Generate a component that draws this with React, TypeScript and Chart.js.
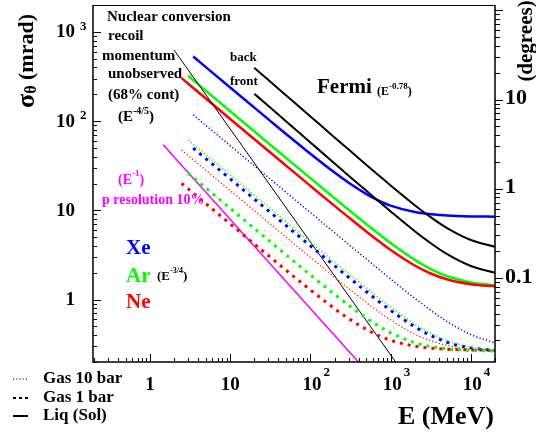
import React, { useEffect, useRef } from "react";
import { Chart, registerables } from "chart.js";

Chart.register(...registerables);

// Energy grids (MeV)
const E_GRID = [10, 30, 100, 200, 300, 500, 700, 1000, 2000, 3000, 5000, 10000, 20000];
const E_FERMI = [20, 30, 50, 100, 200, 300, 500, 700, 1000, 2000, 3000, 5000, 10000, 20000];
const E_XE = [3.46, ...E_GRID];
const E_AR = [3.0, ...E_GRID];
const E_NE = [2.48, ...E_GRID];

// sigma_theta (mrad)
const xeLiq = [529, 237.8, 104.5, 43.1, 26.5, 20.37, 15.21, 12.96, 11.3, 9.57, 9.08, 8.75, 8.56, 8.5];
const arLiq = [322, 128.9, 56.55, 22.97, 13.7, 10.15, 7.0, 5.5, 4.3, 2.79, 2.26, 1.84, 1.558, 1.444];
const neLiq = [303, 105.5, 46.26, 18.8, 11.23, 8.34, 5.77, 4.57, 3.6, 2.41, 2.0, 1.69, 1.487, 1.409];

const xeGas10 = [117.7, 53.1, 23.29, 9.44, 5.62, 4.15, 2.84, 2.21, 1.7, 1.035, 0.786, 0.572, 0.406, 0.327];
const arGas10 = [61.3, 24.86, 10.9, 4.42, 2.64, 1.956, 1.348, 1.059, 0.828, 0.534, 0.431, 0.35, 0.294, 0.272];
const neGas10 = [47.4, 16.66, 7.31, 2.975, 1.782, 1.327, 0.925, 0.738, 0.59, 0.41, 0.352, 0.308, 0.281, 0.271];

const xeGas1 = [49.9, 22.53, 9.88, 4.007, 2.396, 1.776, 1.226, 0.966, 0.758, 0.496, 0.406, 0.335, 0.288, 0.27];
const arGas1 = [26.0, 10.55, 4.626, 1.893, 1.146, 0.864, 0.62, 0.509, 0.425, 0.329, 0.301, 0.281, 0.27, 0.265];
const neGas1 = [20.1, 7.06, 3.108, 1.284, 0.794, 0.613, 0.463, 0.397, 0.35, 0.301, 0.287, 0.278, 0.273, 0.271];

const fermiBack = [395.6, 288.5, 193.7, 112.8, 65.7, 48.0, 32.3, 24.94, 19.0, 11.43, 8.67, 6.36, 4.65, 3.91];
const fermiFront = [202.3, 147.6, 99.1, 57.7, 33.6, 24.5, 16.54, 12.76, 9.73, 5.84, 4.43, 3.25, 2.38, 2.0];

const E_NUCLEAR = [1.99, 2000];
const nuclear = [629, 0.1];
const E_PRES = [1.46, 1000];
const pRes = [54.4, 0.0794];

const X_MIN = 0.195;
const X_MAX = 20000;
const Y_MIN = 0.2;
const Y_MAX = 2000;
const MRAD_PER_DEG = 17.4533;

const BOTTOM_TICKS = [1, 10, 100, 1000, 10000];
const LEFT_TICKS = [1, 10, 100, 1000];
const RIGHT_TICKS = [0.1, 1, 10];

const SERIF = '"Liberation Serif", "Times New Roman", serif';
const F = (px: number) => `bold ${px}px ${SERIF}`;

type Part = { t: string; px: number; dy?: number; w?: number };

function rich(ctx: CanvasRenderingContext2D, parts: Part[], x: number, y: number, align: string, color: string) {
  let total = 0;
  parts.forEach((p) => {
    ctx.font = F(p.px);
    p.w = ctx.measureText(p.t).width;
    total += p.w;
  });
  let cx = align === "center" ? x - total / 2 : align === "right" ? x - total : x;
  ctx.fillStyle = color;
  ctx.textAlign = "left";
  ctx.textBaseline = "middle";
  parts.forEach((p) => {
    ctx.font = F(p.px);
    ctx.fillText(p.t, cx, y + (p.dy || 0));
    cx += p.w || 0;
  });
}

function txt(ctx: CanvasRenderingContext2D, s: string, x: number, y: number, px: number, color = "#000", align: CanvasTextAlign = "left") {
  ctx.font = F(px);
  ctx.fillStyle = color;
  ctx.textAlign = align;
  ctx.textBaseline = "middle";
  ctx.fillText(s, x, y);
}

const decor = {
  id: "decor",
  afterDraw(chart: any) {
    const ctx: CanvasRenderingContext2D = chart.ctx;
    const ca = chart.chartArea;
    const xs = chart.scales.x;
    const ys = chart.scales.y;
    const y2 = chart.scales.y2;
    ctx.save();

    // tick marks
    ctx.strokeStyle = "#000";
    ctx.lineWidth = 1;
    ctx.setLineDash([]);
    ctx.beginPath();
    for (let d = -1; d <= 4; d++) {
      for (let m = 1; m <= 9; m++) {
        const v = m * Math.pow(10, d);
        if (v < xs.min * 0.999 || v > xs.max * 1.001) continue;
        const px = Math.round(xs.getPixelForValue(v)) + 0.5;
        const len = m === 1 ? 8 : 4;
        ctx.moveTo(px, ca.bottom);
        ctx.lineTo(px, ca.bottom - len);
      }
    }
    for (let d = -1; d <= 3; d++) {
      for (let m = 1; m <= 9; m++) {
        const v = m * Math.pow(10, d);
        if (v < ys.min * 0.999 || v > ys.max * 1.001) continue;
        const py = Math.round(ys.getPixelForValue(v)) + 0.5;
        const len = m === 1 ? 8 : 4;
        ctx.moveTo(ca.left, py);
        ctx.lineTo(ca.left + len, py);
      }
    }
    for (let d = -2; d <= 2; d++) {
      for (let m = 1; m <= 9; m++) {
        const v = m * Math.pow(10, d);
        if (v < y2.min * 0.999 || v > y2.max * 1.001) continue;
        const py = Math.round(y2.getPixelForValue(v)) + 0.5;
        const len = m === 1 ? 8 : 5;
        ctx.moveTo(ca.right, py);
        ctx.lineTo(ca.right + len, py);
      }
    }
    ctx.stroke();

    // frame
    ctx.lineWidth = 1.5;
    ctx.beginPath();
    ctx.moveTo(ca.left, ca.top);
    ctx.lineTo(ca.left, ca.bottom);
    ctx.lineTo(ca.right, ca.bottom);
    ctx.lineTo(ca.right, ca.top);
    ctx.stroke();
    ctx.lineWidth = 1;
    ctx.beginPath();
    ctx.moveTo(ca.left, ca.top + 0.5);
    ctx.lineTo(ca.right, ca.top + 0.5);
    ctx.stroke();

    // bottom labels
    BOTTOM_TICKS.forEach((v) => {
      const px = xs.getPixelForValue(v);
      const exp = Math.round(Math.log10(v));
      if (exp <= 1) {
        txt(ctx, String(v), px, ca.bottom + 23, 19, "#000", "center");
      } else {
        ctx.font = F(19);
        const w = ctx.measureText("10").width;
        txt(ctx, "10", px + 1.5, ca.bottom + 23, 19, "#000", "center");
        txt(ctx, String(exp), px + 1.5 + w / 2 + 2, ca.bottom + 11, 13, "#000", "left");
      }
    });
    // left labels
    LEFT_TICKS.forEach((v) => {
      const py = ys.getPixelForValue(v);
      const exp = Math.round(Math.log10(v));
      const rx = ca.left - 18;
      if (exp <= 1) {
        txt(ctx, String(v), rx, py + 0.5, 19, "#000", "right");
      } else {
        txt(ctx, "10", rx, py + 0.5, 19, "#000", "right");
        txt(ctx, String(exp), rx + 5, py - 5, 13, "#000", "left");
      }
    });
    // right labels
    RIGHT_TICKS.forEach((v) => {
      const py = y2.getPixelForValue(v);
      txt(ctx, String(v), ca.right + 10, py - 1, 22, "#000", "left");
    });

    // axis titles
    txt(ctx, "E (MeV)", 494, 417, 26, "#000", "right");
    ctx.save();
    ctx.translate(27, 61);
    ctx.rotate(-Math.PI / 2);
    rich(ctx, [
      { t: "\u03c3", px: 26 },
      { t: "\u03b8", px: 16, dy: 5 },
      { t: " (mrad)", px: 22 },
    ], 0, 0, "center", "#000");
    ctx.restore();
    ctx.save();
    ctx.translate(527, 41);
    ctx.rotate(-Math.PI / 2);
    txt(ctx, "(degrees)", 0, 0, 21, "#000", "center");
    ctx.restore();

    // top-left annotation
    txt(ctx, "Nuclear conversion", 107, 17, 15);
    txt(ctx, "recoil", 108, 36, 15);
    txt(ctx, "momentum", 102, 56, 15);
    txt(ctx, "unobserved", 108, 74, 15);
    txt(ctx, "(68% cont)", 108, 95, 15);
    rich(ctx, [
      { t: "(E", px: 15 },
      { t: "-4/5", px: 10, dy: -6 },
      { t: ")", px: 15 },
    ], 118, 117, "left", "#000");

    // Fermi
    txt(ctx, "back", 230, 58, 13);
    txt(ctx, "front", 230, 82, 13);
    txt(ctx, "Fermi", 317, 88, 21);
    rich(ctx, [
      { t: "(E", px: 12 },
      { t: "-0.78", px: 9, dy: -5 },
      { t: ")", px: 12 },
    ], 377, 92, "left", "#000");

    // momentum resolution
    rich(ctx, [
      { t: "(E", px: 14 },
      { t: "-1", px: 9, dy: -6 },
      { t: ")", px: 14 },
    ], 118, 180, "left", "#ff00ff");
    txt(ctx, "p resolution 10%", 102, 200, 14, "#ff00ff");

    // elements
    txt(ctx, "Xe", 126, 249, 21, "#0000ff");
    txt(ctx, "Ar", 126, 277, 21, "#00ff00");
    rich(ctx, [
      { t: "(E", px: 13 },
      { t: "-3/4", px: 8, dy: -6 },
      { t: ")", px: 13 },
    ], 157, 277, "left", "#000");
    txt(ctx, "Ne", 126, 303, 21, "#ff0000");

    // style legend
    ctx.strokeStyle = "#000";
    ctx.lineWidth = 1.2;
    ctx.setLineDash([1.2, 2]);
    ctx.beginPath();
    ctx.moveTo(13, 379);
    ctx.lineTo(28, 379);
    ctx.stroke();
    ctx.lineWidth = 2;
    ctx.setLineDash([3, 3]);
    ctx.beginPath();
    ctx.moveTo(13, 398);
    ctx.lineTo(28, 398);
    ctx.stroke();
    ctx.lineWidth = 2;
    ctx.setLineDash([]);
    ctx.beginPath();
    ctx.moveTo(13, 416);
    ctx.lineTo(28, 416);
    ctx.stroke();
    txt(ctx, "Gas 10 bar", 43, 379, 17);
    txt(ctx, "Gas 1 bar", 43, 398, 17);
    txt(ctx, "Liq (Sol)", 43, 416, 17);

    ctx.restore();
  },
};

function pts(xs: number[], ys: number[]) {
  return xs.map((x, i) => ({ x, y: ys[i] }));
}

function ds(label: string, xs: number[], ys: number[], color: string, width: number, dash: number[], smooth = true) {
  return {
    label,
    data: pts(xs, ys),
    borderColor: color,
    backgroundColor: color,
    borderWidth: width,
    borderDash: dash,
    pointRadius: 0,
    fill: false,
    cubicInterpolationMode: smooth ? "monotone" : "default",
    tension: 0,
  };
}

export default function App() {
  const ref = useRef<HTMLCanvasElement | null>(null);
  useEffect(() => {
    if (!ref.current) return;
    const DOT = [1.2, 2.2];
    const DASH = [3, 5];
    const chart = new Chart(ref.current, {
      type: "line",
      data: {
        datasets: [
          ds("Xe gas 10 bar", E_XE, xeGas10, "#0000ff", 1.5, DOT),
          ds("Ar gas 10 bar", E_AR, arGas10, "#00ff00", 1.5, DOT),
          ds("Ne gas 10 bar", E_NE, neGas10, "#ff0000", 1.2, DOT),
          ds("Xe gas 1 bar", E_XE, xeGas1, "#0000ff", 3, DASH),
          ds("Ar gas 1 bar", E_AR, arGas1, "#00ff00", 3, DASH),
          ds("Ne gas 1 bar", E_NE, neGas1, "#ff0000", 3, DASH),
          ds("p resolution 10%", E_PRES, pRes, "#ff00ff", 1.5, [], false),
          ds("Nuclear conversion", E_NUCLEAR, nuclear, "#000000", 1, [], false),
          ds("Fermi back", E_FERMI, fermiBack, "#000000", 2, []),
          ds("Fermi front", E_FERMI, fermiFront, "#000000", 2, []),
          ds("Ne liq", E_NE, neLiq, "#ff0000", 2.5, []),
          ds("Ar liq", E_AR, arLiq, "#00ff00", 2.5, []),
          ds("Xe liq", E_XE, xeLiq, "#0000ff", 2.5, []),
        ] as any,
      },
      options: {
        animation: false,
        responsive: false,
        devicePixelRatio: 1,
        layout: { padding: { top: 5, left: 0, right: 0, bottom: 0 } },
        plugins: { legend: { display: false }, tooltip: { enabled: false } },
        events: [],
        scales: {
          x: {
            type: "logarithmic",
            min: X_MIN,
            max: X_MAX,
            grid: { display: false },
            border: { display: false },
            ticks: { display: false },
            afterFit: (s: any) => {
              s.height = 70;
            },
          },
          y: {
            type: "logarithmic",
            position: "left",
            min: Y_MIN,
            max: Y_MAX,
            grid: { display: false },
            border: { display: false },
            ticks: { display: false },
            afterFit: (s: any) => {
              s.width = 93;
            },
          },
          y2: {
            type: "logarithmic",
            position: "right",
            min: Y_MIN / MRAD_PER_DEG,
            max: Y_MAX / MRAD_PER_DEG,
            grid: { display: false },
            border: { display: false },
            ticks: { display: false },
            afterFit: (s: any) => {
              s.width = 41;
            },
          },
        },
      } as any,
      plugins: [decor],
    });
    return () => chart.destroy();
  }, []);
  return (
    <div style={{ position: "fixed", left: 0, top: 0, width: 536, height: 432, background: "#fff" }}>
      <canvas ref={ref} width={536} height={432} style={{ display: "block" }} />
    </div>
  );
}
